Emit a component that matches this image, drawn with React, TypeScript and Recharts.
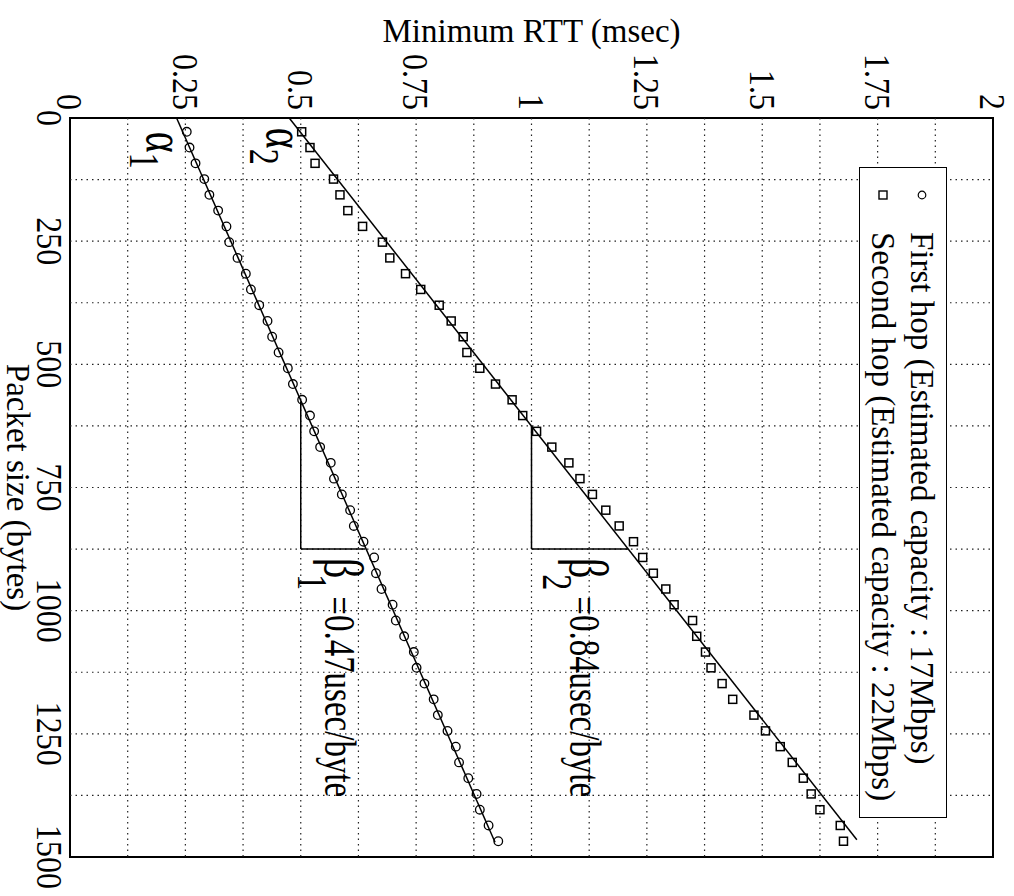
import React from "react";
import {
  ComposedChart,
  XAxis,
  YAxis,
  Scatter,
  Line,
  ReferenceLine,
  ReferenceArea,
  ReferenceDot,
  Legend,
} from "recharts";

const FONT = "'Liberation Serif', 'Times New Roman', serif";

// Probe packet sizes (bytes) and the minimum RTT (msec) seen at each one.
const packetSizes = [
  28, 60, 92, 124, 156, 188, 220, 252, 284, 316, 348, 380, 412, 444, 476, 508,
  540, 572, 604, 636, 668, 700, 732, 764, 796, 828, 860, 892, 924, 956, 988,
  1020, 1052, 1084, 1116, 1148, 1180, 1212, 1244, 1276, 1308, 1340, 1372, 1404,
  1436, 1468,
];
const firstHopRtt = [
  0.253, 0.259, 0.272, 0.291, 0.302, 0.321, 0.339, 0.345, 0.363, 0.381, 0.392,
  0.41, 0.428, 0.438, 0.452, 0.472, 0.483, 0.503, 0.52, 0.529, 0.542, 0.565,
  0.572, 0.589, 0.607, 0.615, 0.636, 0.659, 0.663, 0.675, 0.699, 0.706, 0.724,
  0.745, 0.751, 0.768, 0.788, 0.797, 0.818, 0.836, 0.843, 0.863, 0.881, 0.888,
  0.907, 0.928,
];
const secondHopRtt = [
  0.502, 0.52, 0.531, 0.571, 0.585, 0.602, 0.634, 0.677, 0.693, 0.727, 0.76,
  0.8, 0.826, 0.852, 0.86, 0.888, 0.922, 0.958, 0.981, 1.011, 1.044, 1.081,
  1.105, 1.132, 1.161, 1.19, 1.221, 1.241, 1.264, 1.291, 1.309, 1.349, 1.358,
  1.377, 1.389, 1.413, 1.436, 1.482, 1.507, 1.539, 1.565, 1.589, 1.606, 1.625,
  1.669, 1.676,
];

// fitted lines (end points)
const firstFitSize = [0, 1470];
const firstFitRtt = [0.231, 0.921];
const secondFitSize = [0, 1465];
const secondFitRtt = [0.475, 1.705];

const sizeTicks = [0, 250, 500, 750, 1000, 1250, 1500];
const rttTicks = [0, 0.25, 0.5, 0.75, 1, 1.25, 1.5, 1.75, 2];
const sizeGrid = [125, 250, 375, 500, 625, 750, 875, 1000, 1125, 1250, 1375];
const rttGrid = [
  0.125, 0.25, 0.375, 0.5, 0.625, 0.75, 0.875, 1, 1.125, 1.25, 1.375, 1.5,
  1.625, 1.75, 1.875,
];

const seriesNames = [
  "First hop (Estimated capacity : 17Mbps)",
  "Second hop (Estimated capacity : 22Mbps)",
];

// slope triangles: vertical leg at rtt = base from top..corner bytes, then across to the fit
const triangleTop = [575, 625];
const triangleCorner = [875, 875];
const triangleBase = [0.5, 1.0];
const triangleEnd = [0.64, 1.209];

// text annotations, anchored at baseline start (bytes, msec)
const annotSize = [28, 20, 893, 893];
const annotRtt = [0.167, 0.427, 0.553, 1.083];
const annotMain = ["α", "α", "β", "β"];
const annotSub = ["1", "2", "1", "2"];
const annotRest = ["", "", "=0.47usec/byte", "=0.84usec/byte"];

const firstHop = packetSizes.map((size, i) => ({ size, rtt: firstHopRtt[i] }));
const secondHop = packetSizes.map((size, i) => ({ size, rtt: secondHopRtt[i] }));
const firstFit = firstFitSize.map((size, i) => ({ size, rtt: firstFitRtt[i] }));
const secondFit = secondFitSize.map((size, i) => ({ size, rtt: secondFitRtt[i] }));

const CircleMark = (p: any) => (
  <circle cx={p.cx} cy={p.cy} r={4.3} fill="none" stroke="#000" strokeWidth={1.3} />
);
const SquareMark = (p: any) => (
  <rect x={p.cx - 4} y={p.cy - 4} width={8} height={8} fill="none" stroke="#000" strokeWidth={1.5} />
);

// the reference glyphs are drawn somewhat tall, hence the vertical stretch
const annotLabel = (i: number) => (props: any) => {
  const { x, y } = props.viewBox;
  const beta = annotMain[i] === "β";
  const drop = beta ? 20 : 12.5;
  return (
    <g transform={`translate(${x},${y}) scale(1,1.35)`}>
      <text x={0} y={0} fontFamily={FONT} fontSize={40} fill="#000">
        {annotMain[i]}
        <tspan dx={beta ? -4 : 0} dy={drop} fontSize={32}>
          {annotSub[i]}
        </tspan>
        {annotRest[i] ? (
          <tspan dx={6} dy={-drop} fontSize={33}>
            {annotRest[i]}
          </tspan>
        ) : null}
      </text>
    </g>
  );
};

const SizeTick = (props: any) => {
  const { x, y, payload } = props;
  return (
    <g transform={`translate(${x},${y}) scale(1,1.12)`}>
      <text x={0} y={0} dy="0.71em" textAnchor="middle" fontFamily={FONT} fontSize={32} fill="#000">
        {payload.value}
      </text>
    </g>
  );
};

const RttTick = (props: any) => {
  const { x, y, payload } = props;
  return (
    <g transform={`translate(${x},${y}) scale(1,1.12)`}>
      <text x={0} y={0} dy="0.355em" textAnchor="end" fontFamily={FONT} fontSize={32} fill="#000">
        {payload.value}
      </text>
    </g>
  );
};

const rttTitle = (props: any) => {
  const vb = props.viewBox;
  const cx = vb.x - 16;
  const cy = vb.y + vb.height / 2;
  return (
    <text
      x={cx}
      y={cy}
      transform={`rotate(-90, ${cx}, ${cy})`}
      textAnchor="middle"
      fontFamily={FONT}
      fontSize={33}
      fill="#000"
    >
      Minimum RTT (msec)
    </text>
  );
};

const sizeTitle = (props: any) => {
  const vb = props.viewBox;
  return (
    <text
      x={vb.x + vb.width / 2}
      y={vb.y + 63}
      textAnchor="middle"
      fontFamily={FONT}
      fontSize={33}
      fill="#000"
    >
      Packet size (bytes)
    </text>
  );
};

const KeyBox = () => (
  <div
    style={{
      width: 651,
      height: 88,
      boxSizing: "border-box",
      border: "1.5px solid #000",
      background: "#fff",
      position: "relative",
      fontFamily: FONT,
      fontSize: 33,
      color: "#000",
    }}
  >
    {seriesNames.map((name, i) => (
      <div
        key={name}
        style={{
          position: "absolute",
          left: 0,
          top: i === 0 ? 4 : 43,
          height: 40,
          display: "flex",
          alignItems: "center",
          whiteSpace: "nowrap",
        }}
      >
        <svg width={10} height={10} style={{ marginLeft: 22, marginRight: 32 }}>
          {i === 0 ? (
            <circle cx={5} cy={5} r={3.8} fill="none" stroke="#000" strokeWidth={1.2} />
          ) : (
            <rect x={1} y={1} width={8} height={8} fill="none" stroke="#000" strokeWidth={1.4} />
          )}
        </svg>
        <span>{name}</span>
      </div>
    ))}
  </div>
);

const gridStyle = { stroke: "#222", strokeWidth: 1.2, strokeDasharray: "1.5 4" };

export default function App() {
  return (
    <div
      style={{
        position: "absolute",
        left: 0,
        top: 0,
        width: 1014,
        height: 896,
        overflow: "hidden",
        background: "#fff",
      }}
    >
      {/* the plot is drawn landscape and turned a quarter clockwise */}
      <div
        style={{
          position: "absolute",
          left: 0,
          top: 0,
          width: 896,
          height: 1014,
          transformOrigin: "0 0",
          transform: "translate(1014px, 0) rotate(90deg)",
        }}
      >
        <ComposedChart
          width={896}
          height={1014}
          margin={{ top: 21, right: 39, bottom: 30, left: 58 }}
        >
          <XAxis
            type="number"
            dataKey="size"
            domain={[0, 1500]}
            ticks={sizeTicks}
            interval={0}
            height={40}
            tickLine={false}
            axisLine={false}
            tick={<SizeTick />}
            label={sizeTitle}
          />
          <YAxis
            type="number"
            dataKey="rtt"
            domain={[0, 2]}
            ticks={rttTicks}
            interval={0}
            width={60}
            tickLine={false}
            axisLine={false}
            tick={<RttTick />}
            label={rttTitle}
          />

          {sizeGrid.map((v) => (
            <ReferenceLine key={`gx${v}`} x={v} {...gridStyle} />
          ))}
          {rttGrid.map((v) => (
            <ReferenceLine key={`gy${v}`} y={v} {...gridStyle} />
          ))}

          <ReferenceArea
            x1={0}
            x2={1500}
            y1={0}
            y2={2}
            fill="none"
            stroke="#000"
            strokeWidth={2}
          />

          <Line
            data={firstFit}
            dataKey="rtt"
            type="linear"
            stroke="#000"
            strokeWidth={1.5}
            dot={false}
            legendType="none"
            isAnimationActive={false}
          />
          <Line
            data={secondFit}
            dataKey="rtt"
            type="linear"
            stroke="#000"
            strokeWidth={1.5}
            dot={false}
            legendType="none"
            isAnimationActive={false}
          />

          <Scatter
            name={seriesNames[0]}
            data={firstHop}
            dataKey="rtt"
            shape={CircleMark}
            isAnimationActive={false}
          />
          <Scatter
            name={seriesNames[1]}
            data={secondHop}
            dataKey="rtt"
            shape={SquareMark}
            isAnimationActive={false}
          />

          {triangleTop.map((top, i) => (
            <ReferenceLine
              key={`tv${i}`}
              segment={[
                { x: top, y: triangleBase[i] },
                { x: triangleCorner[i], y: triangleBase[i] },
              ]}
              stroke="#000"
              strokeWidth={1.5}
            />
          ))}
          {triangleTop.map((_, i) => (
            <ReferenceLine
              key={`th${i}`}
              segment={[
                { x: triangleCorner[i], y: triangleBase[i] },
                { x: triangleCorner[i], y: triangleEnd[i] },
              ]}
              stroke="#000"
              strokeWidth={1.5}
            />
          ))}

          {annotSize.map((s, i) => (
            <ReferenceDot
              key={`a${i}`}
              x={s}
              y={annotRtt[i]}
              r={0}
              fill="none"
              stroke="none"
              label={annotLabel(i)}
            />
          ))}

          <Legend
            layout="vertical"
            align="center"
            verticalAlign="middle"
            wrapperStyle={{ left: 167, top: 67, width: 651, height: 88 }}
            content={() => <KeyBox />}
          />
        </ComposedChart>
      </div>
    </div>
  );
}
